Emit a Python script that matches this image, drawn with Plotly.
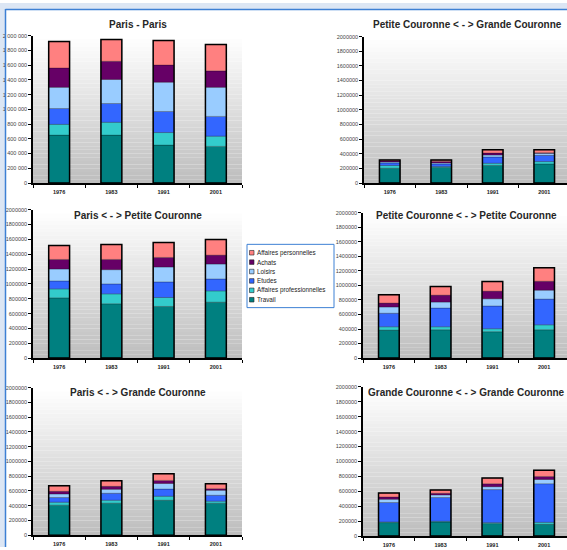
import plotly.graph_objects as go

W, H = 567, 550

categories = ["1976", "1983", "1991", "2001"]
series_names = ["Travail", "Affaires professionnelles", "Etudes", "Loisirs", "Achats", "Affaires personnelles"]
series_colors = ["#008080", "#33CCCC", "#3366FF", "#99CCFF", "#660066", "#FF8080"]

chart_titles = [
    "Paris - Paris",
    "Petite Couronne < - > Grande Couronne",
    "Paris < - > Petite Couronne",
    "Petite Couronne < - > Petite Couronne",
    "Paris < - > Grande Couronne",
    "Grande Couronne < - > Grande Couronne",
]

# values per series (bottom to top: Travail, Aff. pro, Etudes, Loisirs, Achats, Aff. perso)
paris_paris = [
    [650000, 650000, 515000, 497000],
    [146000, 174000, 170000, 139000],
    [215000, 255000, 286000, 268000],
    [287000, 327000, 398000, 394000],
    [264000, 246000, 233000, 224000],
    [357000, 295000, 331000, 358000],
]
pc_gc = [
    [203000, 212000, 240000, 261000],
    [36000, 13000, 30000, 32000],
    [36000, 36000, 86000, 85000],
    [13000, 14000, 27000, 27000],
    [14000, 20000, 27000, 9000],
    [13000, 20000, 45000, 41000],
]
paris_pc = [
    [812000, 732000, 696000, 754000],
    [121000, 134000, 121000, 152000],
    [107000, 134000, 210000, 161000],
    [161000, 192000, 201000, 201000],
    [129000, 138000, 129000, 120000],
    [188000, 201000, 201000, 210000],
]
pc_pc = [
    [385000, 390000, 363000, 390000],
    [46000, 41000, 41000, 68000],
    [186000, 258000, 313000, 354000],
    [86000, 82000, 99000, 122000],
    [54000, 95000, 105000, 123000],
    [114000, 118000, 131000, 186000],
]
paris_gc = [
    [407000, 434000, 474000, 434000],
    [40000, 40000, 54000, 27000],
    [63000, 94000, 98000, 80000],
    [49000, 54000, 76000, 68000],
    [36000, 40000, 41000, 22000],
    [76000, 76000, 89000, 67000],
]
gc_gc = [
    [181000, 190000, 168000, 159000],
    [9000, 9000, 13000, 26000],
    [260000, 318000, 442000, 517000],
    [44000, 35000, 39000, 57000],
    [31000, 22000, 40000, 40000],
    [53000, 44000, 75000, 84000],
]
chart_data = [paris_paris, pc_gc, paris_pc, pc_pc, paris_gc, gc_gc]

y_ticks = [0, 200000, 400000, 600000, 800000, 1000000, 1200000, 1400000, 1600000, 1800000, 2000000]


def px(x):
    return x / W


def py(y):
    return 1 - y / H


# plot-area pixel boxes (left, top, right, bottom)
boxes = [
    (33, 33, 242, 182),
    (364, 34, 570, 182),
    (33, 209, 242, 359),
    (363, 212, 570, 359),
    (33, 389, 242, 538),
    (363, 388, 570, 539),
]
title_y = [21.5, 21.5, 214.5, 214.5, 393.5, 393.5]

fig = go.Figure()
layout = dict(
    width=W, height=H, autosize=False,
    margin=dict(l=0, r=0, t=0, b=0),
    paper_bgcolor="white", plot_bgcolor="rgba(0,0,0,0)",
    barmode="overlay", showlegend=False,
    separators=". ",
    font=dict(family="Liberation Sans, Arial, sans-serif", color="#333333"),
)
shapes = []
annotations = []

# page frame (slide border)
shapes.append(dict(type="rect", xref="paper", yref="paper", x0=0, x1=px(5), y0=0, y1=1,
                   fillcolor="#dce6f4", line=dict(width=0), layer="below"))
shapes.append(dict(type="rect", xref="paper", yref="paper", x0=0, x1=1, y0=py(6), y1=1,
                   fillcolor="#dce6f4", line=dict(width=0), layer="below"))
shapes.append(dict(type="line", xref="paper", yref="paper", x0=px(5.5), x1=px(5.5), y0=0, y1=py(6),
                   line=dict(color="#3d80d4", width=1.5)))
shapes.append(dict(type="line", xref="paper", yref="paper", x0=px(5.5), x1=1, y0=py(6.5), y1=py(6.5),
                   line=dict(color="#3d80d4", width=1.5)))

N_BANDS = 40
for i, (data, box) in enumerate(zip(chart_data, boxes)):
    n = i + 1
    xa = "x" if n == 1 else f"x{n}"
    ya = "y" if n == 1 else f"y{n}"
    l, t, r, b = box
    xr = r if r <= W else W
    span = (xr - l) / ((r - l) / 4.0)
    layout[f"xaxis{'' if n == 1 else n}"] = dict(
        domain=[px(l), px(xr)], anchor=ya, type="category",
        categoryorder="array", categoryarray=categories,
        range=[-0.5, -0.5 + span],
        showline=True, linecolor="black", linewidth=1.5,
        ticks="outside", tickson="boundaries", ticklen=3, tickcolor="black", tickwidth=1,
        ticklabelstandoff=3,
        tickfont=dict(size=5.5, color="#222222", weight="bold"),
        showgrid=False, zeroline=False, fixedrange=True,
    )
    layout[f"yaxis{'' if n == 1 else n}"] = dict(
        domain=[py(b), py(t)], anchor=xa, range=[0, 2000000],
        tickmode="array", tickvals=y_ticks,
        tickformat=",d" if n == 1 else "d",
        showline=True, linecolor="black", linewidth=1.5,
        ticks="outside", ticklen=3, tickcolor="black", tickwidth=1,
        tickfont=dict(size=5.5, color="#444444"),
        showgrid=False, zeroline=False, fixedrange=True,
    )
    # gradient plot background
    for k in range(N_BANDS):
        f = k / (N_BANDS - 1)
        c = int(round(255 - (255 - 190) * f))
        shapes.append(dict(type="rect", xref=f"{xa} domain", yref=f"{ya} domain",
                           x0=0, x1=1, y0=1 - (k + 1) / N_BANDS, y1=1 - k / N_BANDS,
                           fillcolor=f"rgb({c},{c},{c})", line=dict(width=0), layer="below"))
    # stacked segments
    base = [0, 0, 0, 0]
    for s, name in enumerate(series_names):
        vals = data[s]
        fig.add_trace(go.Bar(
            x=categories, y=vals, base=list(base), name=name,
            marker=dict(color=series_colors[s], line=dict(width=0.4, color="rgba(0,0,0,0.6)")),
            width=0.4, xaxis=xa, yaxis=ya, showlegend=False,
        ))
        base = [bb + v for bb, v in zip(base, vals)]
    # outline of each full column
    fig.add_trace(go.Bar(
        x=categories, y=base, base=[0, 0, 0, 0],
        marker=dict(color="rgba(0,0,0,0)", line=dict(width=1.5, color="black")),
        width=0.4, xaxis=xa, yaxis=ya, showlegend=False, hoverinfo="skip",
    ))
    annotations.append(dict(
        text=f"<b>{chart_titles[i]}</b>", xref="paper", yref="paper",
        x=px((l + r) / 2), y=py(title_y[i]), xanchor="center", yanchor="middle",
        showarrow=False, font=dict(size=10, color="#262626"),
    ))

# legend box
shapes.append(dict(type="rect", xref="paper", yref="paper", x0=px(247), x1=px(334), y0=py(308), y1=py(244),
                   fillcolor="white", line=dict(color="#3d80d4", width=1)))
legend_y = [252.5, 262, 271.5, 281, 290.5, 300]
for j, s in enumerate(reversed(range(len(series_names)))):
    yc = legend_y[j]
    shapes.append(dict(type="rect", xref="paper", yref="paper", x0=px(249.5), x1=px(254), y0=py(yc + 2.3), y1=py(yc - 2.3),
                       fillcolor=series_colors[s], line=dict(color="#222222", width=0.6)))
    annotations.append(dict(
        text=series_names[s], xref="paper", yref="paper", x=px(254.5), y=py(yc),
        xanchor="left", yanchor="middle", showarrow=False,
        font=dict(size=6.3, color="#222222"),
    ))

layout["shapes"] = shapes
layout["annotations"] = annotations
fig.update_layout(**layout)
fig.write_html(
    "out.html",
    config={"displayModeBar": False},
    post_script="document.body.style.margin='0';document.body.style.padding='0';document.body.style.overflow='hidden';",
)
